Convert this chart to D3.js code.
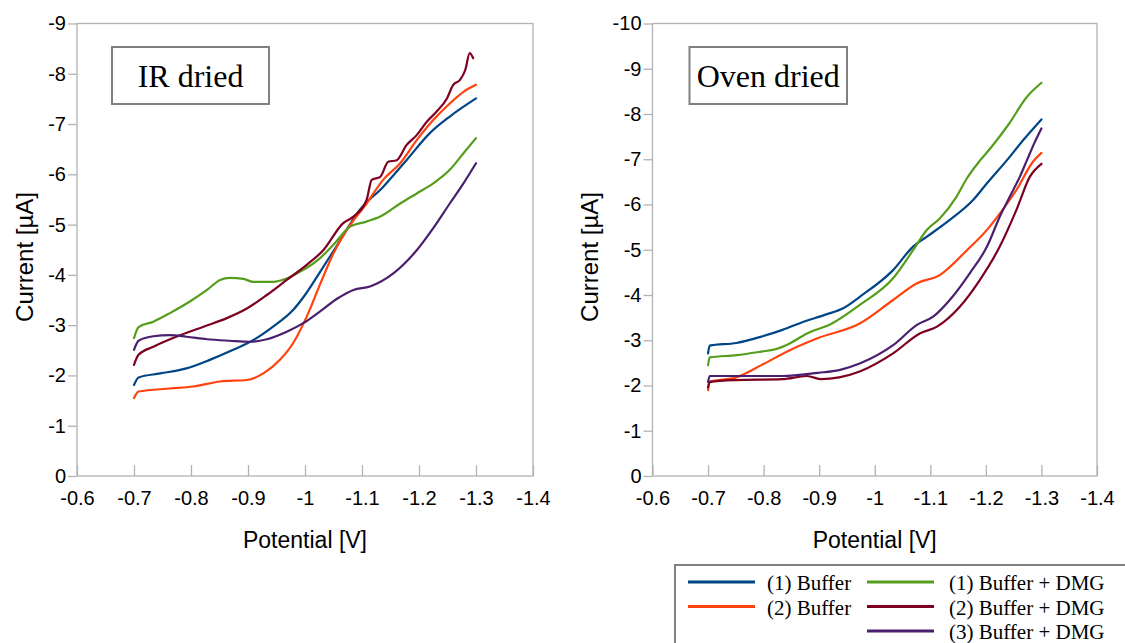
<!DOCTYPE html>
<html>
<head>
<meta charset="utf-8">
<script src="https://cdn.jsdelivr.net/npm/d3@7"></script>
<style>
  body { margin: 0; background: #fff; }
  svg { display: block; }
</style>
</head>
<body>
<div class="viewport"></div>
<script>
// potentials [V] and currents [uA]
var xTicks = [-0.6, -0.7, -0.8, -0.9, -1, -1.1, -1.2, -1.3, -1.4];
var yTicksIR = [0, -1, -2, -3, -4, -5, -6, -7, -8, -9];
var yTicksOven = [0, -1, -2, -3, -4, -5, -6, -7, -8, -9, -10];

var irBuffer1 = [[-0.7,-1.81],[-0.708,-1.96],[-0.746,-2.04],[-0.792,-2.14],[-0.833,-2.31],[-0.874,-2.51],[-0.909,-2.7],[-0.944,-2.97],[-0.979,-3.3],[-1.0,-3.6],[-1.026,-4.05],[-1.058,-4.62],[-1.096,-5.29],[-1.137,-5.75],[-1.178,-6.28],[-1.219,-6.82],[-1.254,-7.15],[-1.3,-7.51]];
var irBuffer2 = [[-0.7,-1.55],[-0.708,-1.68],[-0.763,-1.74],[-0.804,-1.78],[-0.851,-1.88],[-0.898,-1.91],[-0.927,-2.04],[-0.956,-2.31],[-0.979,-2.64],[-1.003,-3.17],[-1.026,-3.8],[-1.05,-4.43],[-1.073,-4.89],[-1.108,-5.42],[-1.137,-5.89],[-1.167,-6.22],[-1.196,-6.68],[-1.225,-7.08],[-1.254,-7.41],[-1.278,-7.64],[-1.3,-7.78]];
var irDmg1 = [[-0.7,-2.74],[-0.708,-2.96],[-0.734,-3.07],[-0.763,-3.24],[-0.798,-3.47],[-0.828,-3.7],[-0.851,-3.9],[-0.868,-3.94],[-0.892,-3.92],[-0.909,-3.86],[-0.944,-3.86],[-0.968,-3.93],[-0.991,-4.06],[-1.026,-4.33],[-1.05,-4.6],[-1.079,-4.96],[-1.108,-5.06],[-1.132,-5.16],[-1.167,-5.42],[-1.196,-5.62],[-1.225,-5.82],[-1.254,-6.09],[-1.278,-6.42],[-1.3,-6.72]];
var irDmg2 = [[-0.7,-2.21],[-0.708,-2.41],[-0.734,-2.57],[-0.781,-2.8],[-0.822,-2.97],[-0.863,-3.14],[-0.898,-3.33],[-0.933,-3.6],[-0.968,-3.9],[-1.003,-4.2],[-1.032,-4.49],[-1.067,-5.03],[-1.085,-5.16],[-1.108,-5.49],[-1.117,-5.89],[-1.132,-5.95],[-1.146,-6.25],[-1.161,-6.28],[-1.178,-6.58],[-1.196,-6.78],[-1.214,-7.05],[-1.231,-7.25],[-1.249,-7.51],[-1.26,-7.78],[-1.272,-7.88],[-1.281,-8.07],[-1.289,-8.41],[-1.295,-8.31]];
var irDmg3 = [[-0.7,-2.51],[-0.708,-2.69],[-0.734,-2.78],[-0.763,-2.8],[-0.792,-2.77],[-0.828,-2.72],[-0.868,-2.69],[-0.904,-2.67],[-0.933,-2.72],[-0.968,-2.87],[-0.997,-3.04],[-1.026,-3.27],[-1.057,-3.53],[-1.085,-3.7],[-1.114,-3.77],[-1.155,-4.03],[-1.196,-4.49],[-1.225,-4.93],[-1.254,-5.42],[-1.278,-5.82],[-1.3,-6.22]];

var ovenBuffer1 = [[-0.7,-2.71],[-0.703,-2.88],[-0.751,-2.94],[-0.796,-3.08],[-0.834,-3.23],[-0.872,-3.41],[-0.91,-3.56],[-0.945,-3.72],[-0.973,-3.96],[-1.033,-4.55],[-1.069,-5.07],[-1.094,-5.29],[-1.135,-5.66],[-1.177,-6.1],[-1.202,-6.47],[-1.238,-6.98],[-1.267,-7.42],[-1.3,-7.88]];
var ovenBuffer2 = [[-0.7,-1.9],[-0.703,-2.08],[-0.751,-2.18],[-0.796,-2.45],[-0.847,-2.78],[-0.898,-3.05],[-0.973,-3.37],[-1.033,-3.89],[-1.076,-4.26],[-1.117,-4.44],[-1.166,-4.99],[-1.202,-5.44],[-1.225,-5.8],[-1.255,-6.32],[-1.285,-6.95],[-1.3,-7.14]];
var ovenDmg1 = [[-0.7,-2.45],[-0.703,-2.62],[-0.751,-2.67],[-0.796,-2.75],[-0.821,-2.8],[-0.847,-2.93],[-0.878,-3.15],[-0.923,-3.37],[-0.973,-3.78],[-1.033,-4.37],[-1.069,-4.99],[-1.094,-5.44],[-1.117,-5.69],[-1.147,-6.17],[-1.166,-6.58],[-1.19,-6.98],[-1.21,-7.27],[-1.242,-7.79],[-1.274,-8.38],[-1.3,-8.69]];
var ovenDmg2 = [[-0.7,-1.96],[-0.703,-2.08],[-0.751,-2.12],[-0.834,-2.14],[-0.878,-2.21],[-0.904,-2.14],[-0.936,-2.18],[-0.973,-2.31],[-1.033,-2.71],[-1.081,-3.15],[-1.112,-3.3],[-1.153,-3.74],[-1.189,-4.33],[-1.225,-5.07],[-1.255,-5.88],[-1.279,-6.61],[-1.3,-6.9]];
var ovenDmg3 = [[-0.7,-2.08],[-0.703,-2.21],[-0.834,-2.21],[-0.898,-2.28],[-0.936,-2.34],[-0.974,-2.49],[-1.033,-2.89],[-1.076,-3.34],[-1.105,-3.52],[-1.135,-3.89],[-1.171,-4.48],[-1.202,-5.07],[-1.225,-5.73],[-1.243,-6.17],[-1.261,-6.61],[-1.274,-6.98],[-1.287,-7.35],[-1.3,-7.68]];

var seriesNames = ["(1) Buffer", "(2) Buffer", "(1) Buffer + DMG", "(2) Buffer + DMG", "(3) Buffer + DMG"];
var seriesColors = ["#004586", "#ff420e", "#579d1c", "#7e0021", "#4b1f6f"];

var W = 1125, H = 643;
var svg = d3.select(".viewport").append("svg")
  .attr("width", W).attr("height", H)
  .style("font-family", "'Liberation Sans', Arial, sans-serif");

svg.append("rect").attr("width", W).attr("height", H).attr("fill", "#fff");

function drawPanel(opts) {
  var left = opts.left, right = opts.right, top = 23.5, bottom = 476;

  var x = d3.scaleLinear().domain([-0.6, -1.4]).range([left, right]);
  var y = d3.scaleLinear().domain([0, opts.yMax]).range([bottom, top]);

  var g = svg.append("g");

  // y axis, ticks outside
  var yAxis = g.append("g")
    .attr("transform", "translate(" + left + ",0)")
    .call(d3.axisLeft(y).tickValues(opts.yTicks).tickSize(9).tickPadding(2)
      .tickFormat(function(d) { return String(d); }));
  yAxis.select(".domain").remove();
  yAxis.selectAll("line").attr("stroke", "#b3b3b3").attr("stroke-width", 1.3);
  yAxis.selectAll("text").attr("font-size", 20).attr("fill", "#000");

  // x axis, ticks pointing into the plot
  var xAxis = g.append("g")
    .attr("transform", "translate(0," + bottom + ")")
    .call(d3.axisBottom(x).tickValues(xTicks).tickSizeInner(-11).tickSizeOuter(0).tickPadding(15)
      .tickFormat(function(d) { return String(d); }));
  xAxis.select(".domain").remove();
  xAxis.selectAll("line").attr("stroke", "#b3b3b3").attr("stroke-width", 1.3);
  xAxis.selectAll("text").attr("font-size", 20).attr("fill", "#000");

  // plot frame
  g.append("rect")
    .attr("x", left).attr("y", top)
    .attr("width", right - left).attr("height", bottom - top)
    .attr("fill", "none").attr("stroke", "#b3b3b3").attr("stroke-width", 1.3);

  var line = d3.line()
    .x(function(d) { return x(d[0]); })
    .y(function(d) { return y(d[1]); })
    .curve(d3.curveMonotoneX);

  opts.series.forEach(function(s, i) {
    g.append("path")
      .datum(s)
      .attr("fill", "none")
      .attr("stroke", seriesColors[i])
      .attr("stroke-width", 2.2)
      .attr("stroke-linejoin", "round")
      .attr("stroke-linecap", "round")
      .attr("d", line);
  });

  // axis titles
  g.append("text")
    .attr("x", (left + right) / 2).attr("y", 548)
    .attr("text-anchor", "middle").attr("font-size", 23)
    .text("Potential [V]");
  g.append("text")
    .attr("transform", "translate(" + opts.titleX + ",257) rotate(-90)")
    .attr("text-anchor", "middle").attr("font-size", 24)
    .text("Current [µA]");

  // label box
  g.append("rect")
    .attr("x", opts.box[0]).attr("y", 47)
    .attr("width", opts.box[1] - opts.box[0]).attr("height", 57)
    .attr("fill", "#fff").attr("stroke", "#808080").attr("stroke-width", 2);
  g.append("text")
    .attr("x", (opts.box[0] + opts.box[1]) / 2).attr("y", 87)
    .attr("text-anchor", "middle")
    .attr("font-family", "'Liberation Serif', 'Times New Roman', serif")
    .attr("font-size", 32)
    .text(opts.label);
}

drawPanel({
  left: 77, right: 533, yMax: -9, yTicks: yTicksIR, titleX: 33,
  box: [112, 269], label: "IR dried",
  series: [irBuffer1, irBuffer2, irDmg1, irDmg2, irDmg3]
});

drawPanel({
  left: 652.5, right: 1097, yMax: -10, yTicks: yTicksOven, titleX: 598,
  box: [689.5, 847], label: "Oven dried",
  series: [ovenBuffer1, ovenBuffer2, ovenDmg1, ovenDmg2, ovenDmg3]
});

// legend
var legend = svg.append("g")
  .attr("font-family", "'Liberation Serif', 'Times New Roman', serif")
  .attr("font-size", 21);

legend.append("rect")
  .attr("x", 675).attr("y", 565).attr("width", 470).attr("height", 100)
  .attr("fill", "#fff").attr("stroke", "#808080").attr("stroke-width", 2);

var legendPos = [[688, 0], [688, 1], [867, 0], [867, 1], [867, 2]];
seriesNames.forEach(function(name, i) {
  var lx = legendPos[i][0], ly = 582 + legendPos[i][1] * 24.5;
  legend.append("line")
    .attr("x1", lx).attr("x2", lx + 67)
    .attr("y1", ly).attr("y2", ly)
    .attr("stroke", seriesColors[i]).attr("stroke-width", 3);
  legend.append("text")
    .attr("x", i < 2 ? 767 : 949).attr("y", ly + 8)
    .text(name);
});
</script>
</body>
</html>
